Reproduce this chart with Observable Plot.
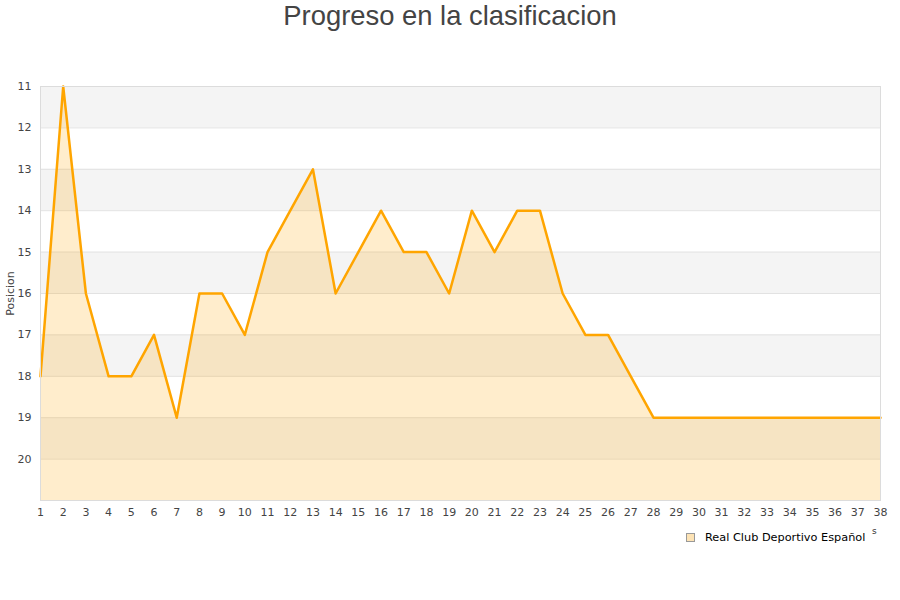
<!DOCTYPE html>
<html>
<head>
<meta charset="utf-8">
<script src="https://cdn.jsdelivr.net/npm/d3@7"></script>
<script src="https://cdn.jsdelivr.net/npm/@observablehq/plot@0.6"></script>
<style>
  html, body { margin: 0; padding: 0; background: #fff; }
  #wrap { position: relative; width: 900px; height: 600px; overflow: hidden; }
  #title { position: absolute; left: 0; top: 0; width: 900px; text-align: center;
    font-family: "Liberation Sans", Arial, sans-serif; font-size: 27.4px; color: #444; line-height: 32px; }
  #chart { position: absolute; left: 0; top: 0; }
  #legend { position: absolute; left: 686px; top: 531px; font-family: "DejaVu Sans", sans-serif;
    font-size: 11.3px; color: #000; display: flex; align-items: center; white-space: nowrap; }
  #legend .sw { width: 7px; height: 7px; border: 1px solid #999; background: #fde3b5; margin-right: 10px; }
  #cut { position: absolute; left: 872px; top: 526px; font-family: "DejaVu Sans", sans-serif;
    font-size: 9px; color: #333; }
</style>
</head>
<body>
<div id="wrap">
  <div id="chart"></div>
  <div id="title">Progreso en la clasificacion</div>
  <div id="legend"><span class="sw"></span><span>Real Club Deportivo Español</span></div>
  <div id="cut">s</div>
</div>
<script>
const jornadas = d3.range(1, 39);
const posiciones = [18, 11, 16, 18, 18, 17, 19, 16, 16, 17, 15, 14, 13, 16, 15, 14, 15, 15, 16, 14,
  15, 14, 14, 16, 17, 17, 18, 19, 19, 19, 19, 19, 19, 19, 19, 19, 19, 19];
const yTicks = [11, 12, 13, 14, 15, 16, 17, 18, 19, 20];
const bandStarts = [11, 13, 15, 17, 19];
const gridLines = [11, 12, 13, 14, 15, 16, 17, 18, 19, 20, 21];

const data = jornadas.map((j, i) => ({j, pos: posiciones[i]}));

const chart = Plot.plot({
  width: 900,
  height: 600,
  marginLeft: 40,
  marginRight: 20,
  marginTop: 86,
  marginBottom: 100,
  style: {fontFamily: "DejaVu Sans, sans-serif", fontSize: "11px", color: "#444", background: "transparent"},
  x: {domain: [1, 38], ticks: jornadas, tickFormat: d => d, tickSize: 0, tickPadding: 8, label: null},
  y: {domain: [11, 21], reverse: true, ticks: yTicks, tickSize: 0, tickPadding: 9,
      label: "Posicion", labelAnchor: "center", labelArrow: "none", labelOffset: 34},
  marks: [
    Plot.rect(bandStarts, {x1: 1, x2: 38, y1: d => d, y2: d => d + 1, fill: "#f4f4f4"}),
    Plot.ruleY(gridLines, {stroke: "#e2e2e2", strokeWidth: 1}),
    Plot.areaY(data, {x: "j", y1: 21, y2: "pos", fill: "orange", fillOpacity: 0.2}),
    Plot.line(data, {x: "j", y: "pos", stroke: "orange", strokeWidth: 2.5}),
    Plot.frame({stroke: "#dcdcdc"})
  ]
});
document.getElementById("chart").appendChild(chart);
</script>
</body>
</html>
